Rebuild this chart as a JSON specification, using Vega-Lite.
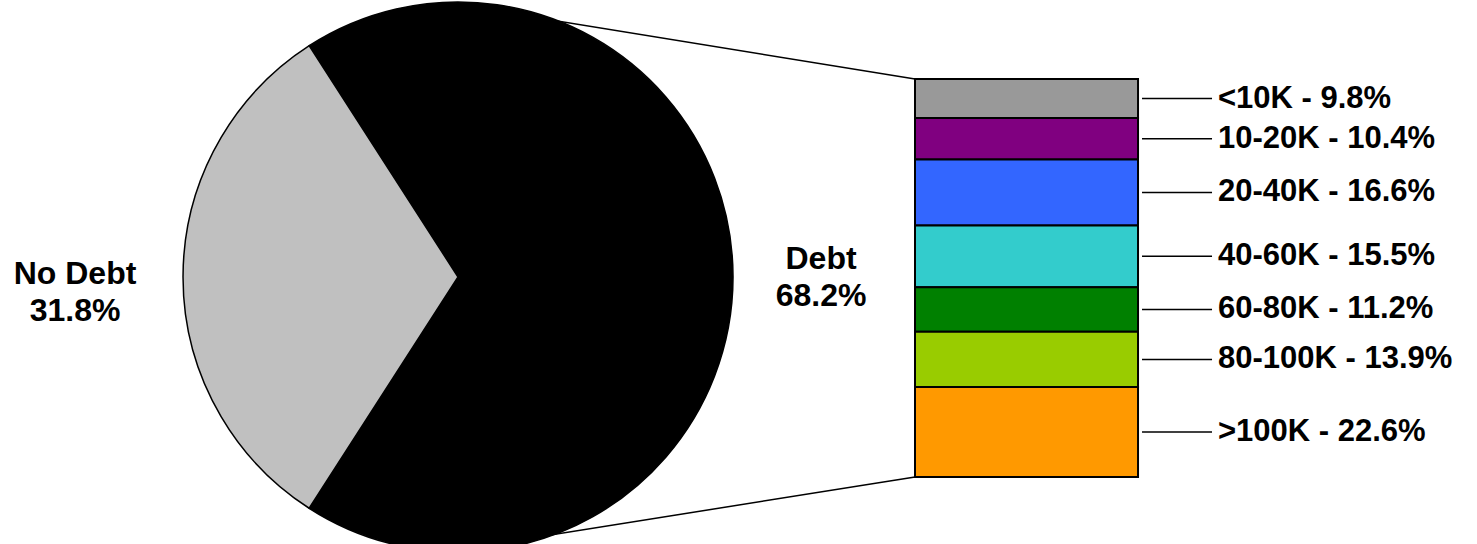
{
  "$schema": "https://vega.github.io/schema/vega-lite/v6.json",
  "width": 1477,
  "height": 544,
  "autosize": {"type": "none"},
  "padding": 0,
  "background": "white",
  "config": {
    "view": {"stroke": null},
    "text": {"font": "Liberation Sans", "fontWeight": "bold", "color": "black"}
  },
  "datasets": {
    "pie": [
      {"status": "Debt", "pct": 68.2, "order": 1},
      {"status": "No Debt", "pct": 31.8, "order": 2}
    ],
    "debt": [
      {"cat": "<10K", "pct": 9.8, "rank": 1},
      {"cat": "10-20K", "pct": 10.4, "rank": 2},
      {"cat": "20-40K", "pct": 16.6, "rank": 3},
      {"cat": "40-60K", "pct": 15.5, "rank": 4},
      {"cat": "60-80K", "pct": 11.2, "rank": 5},
      {"cat": "80-100K", "pct": 13.9, "rank": 6},
      {"cat": ">100K", "pct": 22.6, "rank": 7}
    ]
  },
  "layer": [
    {
      "data": {"name": "pie"},
      "mark": {"type": "arc", "outerRadius": 275, "stroke": "black", "strokeWidth": 1.5},
      "encoding": {
        "x": {"datum": 31.01, "type": "quantitative", "scale": {"domain": [0, 100], "nice": false, "zero": false}, "axis": null},
        "y": {"datum": 49.75, "type": "quantitative", "scale": {"domain": [-19.85, 116.83], "reverse": true, "nice": false, "zero": false}, "axis": null},
        "theta": {"field": "pct", "type": "quantitative", "stack": true, "scale": {"domain": [0, 100], "range": [-0.5716, 5.7116], "nice": false, "zero": false}},
        "color": {"field": "status", "type": "nominal", "scale": {"domain": ["Debt", "No Debt"], "range": ["#000000", "#C0C0C0"]}, "legend": null},
        "order": {"field": "order", "type": "quantitative"}
      }
    },
    {
      "data": {"values": [{}]},
      "mark": {"type": "rule", "stroke": "black", "strokeWidth": 1.5},
      "encoding": {
        "x": {"datum": 33.18, "type": "quantitative"},
        "y": {"datum": -17.34, "type": "quantitative"},
        "x2": {"datum": 61.95},
        "y2": {"datum": 0}
      }
    },
    {
      "data": {"values": [{}]},
      "mark": {"type": "rule", "stroke": "black", "strokeWidth": 1.5},
      "encoding": {
        "x": {"datum": 33.85, "type": "quantitative"},
        "y": {"datum": 116.58, "type": "quantitative"},
        "x2": {"datum": 61.95},
        "y2": {"datum": 100}
      }
    },
    {
      "data": {"name": "pie"},
      "transform": [
        {"stack": "pct", "groupby": [], "sort": [{"field": "order"}], "as": ["t0", "t1"]},
        {"calculate": "(datum.t0 + datum.t1) / 2", "as": "tmid"},
        {"calculate": "datum.status + '\\n' + datum.pct + '%'", "as": "lbl"},
        {"filter": "datum.status === 'Debt'"}
      ],
      "mark": {"type": "text", "radius": 363, "dy": -18, "fontSize": 32, "lineBreak": "\n", "lineHeight": 37, "align": "center", "baseline": "middle"},
      "encoding": {
        "x": {"datum": 31.01, "type": "quantitative"},
        "y": {"datum": 49.75, "type": "quantitative"},
        "theta": {"field": "tmid", "type": "quantitative", "stack": null},
        "text": {"field": "lbl", "type": "nominal"}
      }
    },
    {
      "data": {"name": "pie"},
      "transform": [
        {"stack": "pct", "groupby": [], "sort": [{"field": "order"}], "as": ["t0", "t1"]},
        {"calculate": "(datum.t0 + datum.t1) / 2", "as": "tmid"},
        {"calculate": "datum.status + '\\n' + datum.pct + '%'", "as": "lbl"},
        {"filter": "datum.status === 'No Debt'"}
      ],
      "mark": {"type": "text", "radius": 383, "dy": -3, "fontSize": 32, "lineBreak": "\n", "lineHeight": 37, "align": "center", "baseline": "middle"},
      "encoding": {
        "x": {"datum": 31.01, "type": "quantitative"},
        "y": {"datum": 49.75, "type": "quantitative"},
        "theta": {"field": "tmid", "type": "quantitative", "stack": null},
        "text": {"field": "lbl", "type": "nominal"}
      }
    },
    {
      "data": {"name": "debt"},
      "transform": [
        {"stack": "pct", "groupby": [], "sort": [{"field": "rank"}], "as": ["y0", "y1"]}
      ],
      "mark": {"type": "rect", "stroke": "black", "strokeWidth": 2},
      "encoding": {
        "x": {"datum": 61.95, "type": "quantitative"},
        "x2": {"datum": 77.05},
        "y": {"field": "y0", "type": "quantitative"},
        "y2": {"field": "y1"},
        "fill": {
          "field": "cat",
          "type": "nominal",
          "scale": {
            "domain": ["<10K", "10-20K", "20-40K", "40-60K", "60-80K", "80-100K", ">100K"],
            "range": ["#999999", "#800080", "#3366FF", "#33CCCC", "#008000", "#99CC00", "#FF9900"]
          },
          "legend": null
        }
      }
    },
    {
      "data": {"name": "debt"},
      "transform": [
        {"stack": "pct", "groupby": [], "sort": [{"field": "rank"}], "as": ["y0", "y1"]},
        {"calculate": "(datum.y0 + datum.y1) / 2", "as": "ymid"}
      ],
      "mark": {"type": "rule", "stroke": "black", "strokeWidth": 1.5},
      "encoding": {
        "x": {"datum": 77.32, "type": "quantitative"},
        "x2": {"datum": 82.06},
        "y": {"field": "ymid", "type": "quantitative"}
      }
    },
    {
      "data": {"name": "debt"},
      "transform": [
        {"stack": "pct", "groupby": [], "sort": [{"field": "rank"}], "as": ["y0", "y1"]},
        {"calculate": "(datum.y0 + datum.y1) / 2", "as": "ymid"},
        {"calculate": "datum.cat + ' - ' + datum.pct + '%'", "as": "label"}
      ],
      "mark": {"type": "text", "fontSize": 31, "align": "left", "baseline": "middle"},
      "encoding": {
        "x": {"datum": 82.46, "type": "quantitative"},
        "y": {"field": "ymid", "type": "quantitative"},
        "text": {"field": "label", "type": "nominal"}
      }
    }
  ]
}
